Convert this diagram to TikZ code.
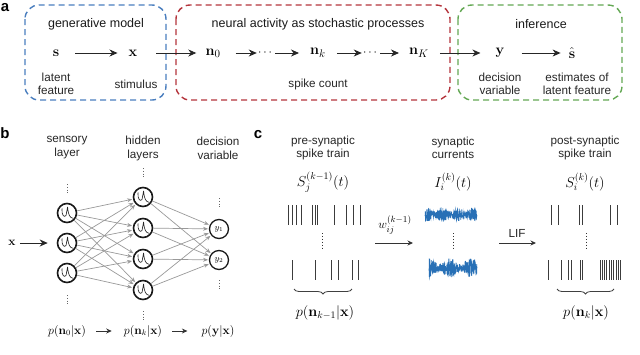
\documentclass[tikz,border=0pt]{standalone}
\usepackage[no-math]{fontspec}
\setmainfont{Liberation Sans}
\usetikzlibrary{arrows.meta,decorations.pathreplacing}
\definecolor{cblue}{RGB}{74,126,190}
\definecolor{cred}{RGB}{180,52,60}
\definecolor{cgreen}{RGB}{100,168,84}
\definecolor{cnoise}{RGB}{40,112,182}
\definecolor{cspike}{RGB}{60,60,60}
\begin{document}
\begin{tikzpicture}[x=1pt,y=-1pt,
  lbl/.style={font=\fontsize{11.7}{13}\selectfont, align=center, inner sep=0pt, text=black!85},
  lblb/.style={font=\fontsize{11.7}{14}\selectfont, align=center, inner sep=0pt, text=black!85},
  ttl/.style={font=\fontsize{12.5}{14}\selectfont, inner sep=0pt, text=black!90},
  panel/.style={font=\fontsize{15}{16}\selectfont\bfseries, inner sep=0pt},
  syma/.style={font=\fontsize{15}{16}\selectfont, inner sep=1pt},
  symb/.style={font=\fontsize{11.5}{12}\selectfont, inner sep=1pt},
  symc/.style={font=\fontsize{14}{15}\selectfont, inner sep=1pt},
  arr/.style={-{Stealth[length=8pt,width=7pt,inset=2.5pt]}, line width=0.9pt, draw=black!85},
  sarr/.style={-{Stealth[length=5.5pt,width=5pt]}, line width=0.8pt, draw=black!80},
  gbox/.style={dash pattern=on 6pt off 4pt, line width=1.4pt, rounded corners=14pt},
  neuron/.style={circle, draw=black!90, line width=1.6pt, minimum size=19pt, inner sep=0pt, fill=white},
  conn/.style={-{Stealth[length=5pt,width=4pt]}, draw=black!40, line width=0.7pt},
  spike/.style={draw=cspike, line width=0.9pt},
  noise/.style={draw=cnoise, line width=0.55pt},
  dotv/.style={draw=black!80, dotted, line width=0.9pt},
  dotb/.style={draw=black!60, dash pattern=on 0.8pt off 2pt, line width=0.9pt},
]
\useasboundingbox (0,0) rectangle (640,354);

% ---------------- panel a ----------------
\node[panel] (pa) at (5,8) {a};
\draw[gbox, draw=cblue] (25,5) rectangle (166,100);
\draw[gbox, draw=cred] (176,5) rectangle (450,100);
\draw[gbox, draw=cgreen] (458,5) rectangle (622,100);

\node[ttl] (t1) at (96,24) {generative model};
\node[ttl] (t2) at (318,24) {neural activity as stochastic processes};
\node[ttl] (t3) at (541,24) {inference};

\node[syma] (s) at (56,53) {$\mathbf{s}$};
\node[syma] (x) at (133,53) {$\mathbf{x}$};
\node[syma] (n0) at (213,53) {$\mathbf{n}_0$};
\node[syma, font=\fontsize{12}{13}\selectfont] (d1) at (265,53) {$\cdots$};
\node[syma] (nk) at (318,53) {$\mathbf{n}_k$};
\node[syma, font=\fontsize{12}{13}\selectfont] (d2) at (370,53) {$\cdots$};
\node[syma] (nK) at (419,53) {$\mathbf{n}_K$};
\node[syma] (y) at (500,53) {$\mathbf{y}$};
\node[syma] (sh) at (572,53) {$\hat{\mathbf{s}}$};

\draw[arr, shorten <=15pt, shorten >=10pt] (s) -- (x);
\draw[arr, shorten <=18pt, shorten >=8pt] (x) -- (n0);
\draw[arr, shorten <=14pt, shorten >=0pt] (n0) -- (d1);
\draw[arr, shorten <=2pt, shorten >=10pt] (d1) -- (nk);
\draw[arr, shorten <=10pt, shorten >=0pt] (nk) -- (d2);
\draw[arr, shorten <=2pt, shorten >=9pt] (d2) -- (nK);
\draw[arr, shorten <=10pt, shorten >=14pt] (nK) -- (y);
\draw[arr, shorten <=16pt, shorten >=7pt] (y) -- (sh);

\node[lbl] (l1) at (56,84) {latent\\feature};
\node[lbl] (l2) at (136,84) {stimulus};
\node[lbl] (l3) at (318,84) {spike count};
\node[lbl] (l4) at (500,84) {decision\\variable};
\node[lbl] (l5) at (577,84) {estimates of\\latent feature};

% ---------------- panel b ----------------
\node[panel] (pb) at (5,133) {b};
\node[lblb] (b1) at (67,148) {sensory\\layer};
\node[lblb] (b2) at (143,148) {hidden\\layers};
\node[lblb] (b3) at (218,148) {decision\\variable};

\foreach \n/\yy in {s1/213,s2/243,s3/273}{
  \node[neuron] (\n) at (67,\yy) {};
}
\foreach \n/\yy in {h1/197,h2/228,h3/259,h4/290}{
  \node[neuron] (\n) at (143,\yy) {};
}
\node[neuron, line width=1.3pt, font=\fontsize{9}{10}\selectfont] (o1) at (219,229) {$y_1$};
\node[neuron, line width=1.3pt, font=\fontsize{9}{10}\selectfont] (o2) at (219,260) {$y_2$};

\foreach \n in {s1,s2,s3,h1,h2,h3,h4}{
  \draw[line width=0.65pt, black!85, line join=round] ([shift={(-5,-4.5)}]\n.center)
     .. controls ([shift={(-5.5,2)}]\n.center) and ([shift={(-3,5)}]\n.center) .. ([shift={(-1,2.5)}]\n.center)
     -- ([shift={(0.6,-6)}]\n.center)
     .. controls ([shift={(1.2,2)}]\n.center) and ([shift={(3,5)}]\n.center) .. ([shift={(6,5.2)}]\n.center);
}

\foreach \a in {s1,s2,s3}{
  \foreach \b in {h1,h2,h3,h4}{
    \draw[conn, shorten >=0.8pt] (\a) -- (\b);
  }
}
\foreach \a in {h1,h2,h3,h4}{
  \foreach \b in {o1,o2}{
    \draw[conn, shorten >=0.8pt] (\a) -- (\b);
  }
}

% vertical ellipses
\draw[dotb] (67,184) -- (67,195);
\draw[dotb] (67,295) -- (67,306);
\draw[dotb] (143,168) -- (143,179);
\draw[dotb] (143,311) -- (143,322);
\draw[dotb] (219,198) -- (219,209);
\draw[dotb] (219,280) -- (219,291);

\node[syma, font=\fontsize{13}{14}\selectfont] (xin) at (12,243) {$\mathbf{x}$};
\draw[arr, shorten <=3pt, shorten >=9pt] (xin) -- (s2);

\node[symb] (p0) at (67,331) {$p(\mathbf{n}_0|\mathbf{x})$};
\node[symb] (pk) at (143,331) {$p(\mathbf{n}_k|\mathbf{x})$};
\node[symb] (py) at (218,331) {$p(\mathbf{y}|\mathbf{x})$};
\draw[sarr, shorten <=9pt, shorten >=11pt] (p0) -- (pk);
\draw[sarr, shorten <=9pt, shorten >=13pt] (pk) -- (py);

% ---------------- panel c ----------------
\node[panel] (pc) at (258,135) {c};
\node[lbl] (c1) at (323,148) {pre-synaptic\\spike train};
\node[lbl] (c2) at (453,148) {synaptic\\currents};
\node[lbl] (c3) at (585,148) {post-synaptic\\spike train};

\node[symc] (S1) at (323,182) {$S_j^{(k-1)}(t)$};
\node[symc] (I1) at (453,182) {$I_i^{(k)}(t)$};
\node[symc] (S2) at (585,182) {$S_i^{(k)}(t)$};

% pre-synaptic spikes
\foreach \xx in {288.3,292.3,296,301.7,312.7,315,317.3,334,346,353.3,360.7}{
  \draw[spike] (\xx,205) -- (\xx,225);
}
\foreach \xx in {292.7,315.5,331.7,338.3,352.8,358.6}{
  \draw[spike] (\xx,260) -- (\xx,280);
}
\draw[dotv] (322,233) -- (322,248);

% post-synaptic spikes
\foreach \xx in {551,558.3,579.3,582,610,617.3}{
  \draw[spike] (\xx,205) -- (\xx,225);
}
\foreach \xx in {548.5,561.5,568,571,580,582.5,600,602.3,604.6,606.9,609.2,611.5,613.8,616.1,618.4,620.7}{
  \draw[spike] (\xx,260) -- (\xx,280);
}
\draw[dotv] (586,233) -- (586,248);

% synaptic currents (noise)
\pgfmathsetseed{7}
\draw[noise] plot[domain=425:477, samples=360] (\x,{214.5+(5.5+1.8*sin(\x*23))*rand});
\draw[noise] plot[domain=429:477, samples=360] (\x,{268+(7+2.8*sin(\x*17))*rand});
\draw[dotv] (453,233) -- (453,248);

% arrows
\coordinate (wa) at (375,243);
\coordinate (wb) at (413,243);
\draw[sarr] (wa) -- (wb);
\node[symc, font=\fontsize{12.5}{13}\selectfont] (wl) at (395,225) {$w_{ij}^{(k-1)}$};
\coordinate (la) at (499,243);
\coordinate (lb) at (536,243);
\draw[sarr] (la) -- (lb);
\node[lbl] (lif) at (517,233) {LIF};

% braces
\draw[decorate, decoration={brace, amplitude=5pt, mirror}, line width=0.8pt, black!75] (294,289) -- (352,289);
\draw[decorate, decoration={brace, amplitude=5pt, mirror}, line width=0.8pt, black!75] (557,289) -- (614,289);
\node[symc] (pn1) at (325,313) {$p(\mathbf{n}_{k-1}|\mathbf{x})$};
\node[symc] (pn2) at (586,313) {$p(\mathbf{n}_k|\mathbf{x})$};
\end{tikzpicture}
\end{document}
